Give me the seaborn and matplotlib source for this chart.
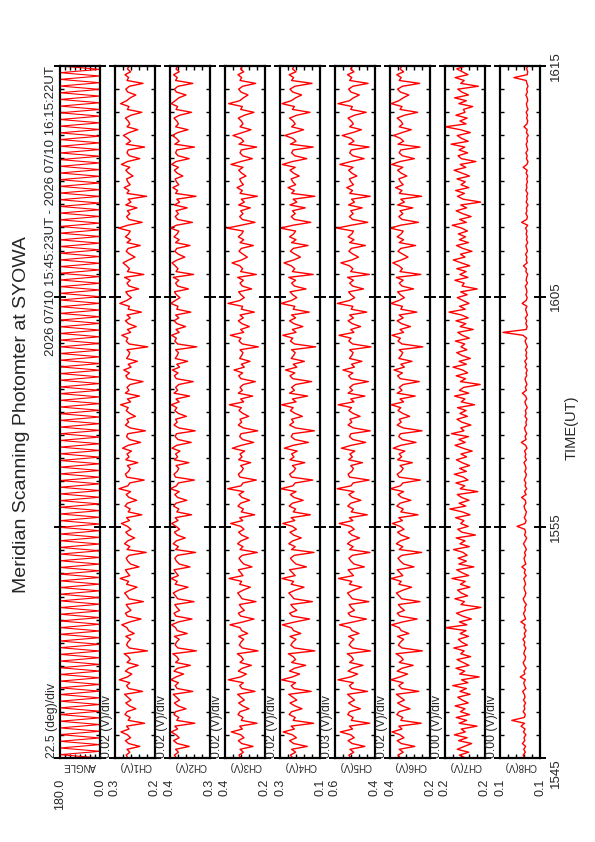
import numpy as np
import matplotlib
matplotlib.use("Agg")
import matplotlib.pyplot as plt
from matplotlib.ticker import FixedLocator
import seaborn as sns

# ---- text ----
TITLE = "Meridian Scanning Photomter at SYOWA"
PERIOD = "2026 07/10 15:45:23UT - 2026 07/10 16:15:22UT"
TIME_TICKS = [0, 10, 20, 30]  # minutes after 15:45
TIME_LABELS = ["1545", "1555", "1605", "1615"]
TIME_SPAN = 30

PANEL_NAMES = ["ANGLE", "CH1(V)", "CH2(V)", "CH3(V)", "CH4(V)",
               "CH5(V)", "CH6(V)", "CH7(V)", "CH8(V)"]
SCALE_TEXT = ["22.5 (deg)/div", "0.02 (V)/div", "0.02 (V)/div", "0.02 (V)/div",
              "0.02 (V)/div", "0.03 (V)/div", "0.02 (V)/div", "0.00 (V)/div",
              "0.00 (V)/div"]
VALUE_LIMITS = [(0.0, 180.0), (0.20, 0.30), (0.30, 0.40), (0.24, 0.36), (0.15, 0.25),
                (0.45, 0.60), (0.26, 0.36), (0.200, 0.215), (0.100, 0.115)]
VALUE_LABELS = [("180.0", "0.0"), ("0.3", "0.2"), ("0.4", "0.3"), ("0.4", "0.2"),
                ("0.3", "0.1"), ("0.6", "0.4"), ("0.4", "0.2"), ("0.2", "0.2"),
                ("0.1", "0.1")]
DIVISIONS = [8, 5, 5, 5, 5, 5, 5, 5, 5]

# ---- data ----
ANGLE = [
    0, 180, 0, 180, 0, 180, 0, 180, 0, 180, 0, 180, 0, 180, 0, 180,
    0, 180, 0, 180, 0, 180, 0, 180, 0, 180, 0, 180, 0, 180, 0, 180,
    0, 180, 0, 180, 0, 180, 0, 180, 0, 180, 0, 180, 0, 180, 0, 180,
    0, 180, 0, 180, 0, 180, 0, 180, 0, 180, 0, 180, 0, 180, 0, 180,
    0, 180, 0, 180, 0, 180, 0, 180, 0, 180, 0, 180, 0, 180, 0, 180,
    0, 180, 0, 180, 0, 180, 0, 180, 0, 180, 0, 180, 0, 180, 0, 180,
    0, 180, 0, 180, 0, 180, 0, 180, 0, 180, 0, 180, 0, 180, 0, 180,
    0, 180, 0, 180, 0, 180, 0, 180, 0, 180, 0, 180, 0, 180, 0, 180,
    0, 180, 0, 180, 0, 180, 0, 180, 0, 180, 0, 180, 0, 180, 0, 180,
    0, 180, 0, 180, 0, 180, 0, 180, 0, 180, 0, 180, 0, 180, 0, 180,
    0, 180, 0, 180, 0, 180, 0, 180, 0, 180, 0, 180, 0, 180, 0, 180,
    0, 180, 0, 180, 0, 180, 0, 180, 0, 180, 0, 180, 0, 180, 0, 180,
    0, 180, 0, 180, 0, 180, 0, 180, 0, 180, 0, 180, 0, 180, 0, 180,
]

# photometer channels, millivolts, 15:45 -> 16:15
CH1_MV = [
    268, 272, 263, 270, 238, 266, 274, 261, 269, 285, 265, 271, 226, 267, 262, 275, 270, 248, 264, 273,
    260, 268, 276, 231, 266, 271, 263, 289, 269, 258, 274, 265, 242, 270, 262, 267, 277, 219, 264, 271,
    268, 261, 273, 252, 266, 270, 283, 263, 235, 269, 274, 260, 267, 272, 229, 265, 270, 276, 262, 245,
    271, 266, 287, 263, 269, 274, 240, 261, 268, 272, 265, 222, 270, 263, 276, 268, 251, 266, 273, 260,
    269, 284, 264, 271, 233, 267, 262, 275, 269, 246, 265, 272, 261, 290, 268, 263, 227, 270, 274, 266,
    262, 269, 243, 273, 265, 270, 259, 281, 267, 236, 264, 271, 268, 224, 262, 274, 266, 270, 249, 263,
    272, 267, 286, 261, 269, 239, 274, 265, 270, 262, 230, 268, 273, 264, 278, 260, 267, 244, 271, 266,
    263, 270, 218, 265, 272, 268, 283, 261, 269, 247, 266, 274, 262, 270, 234, 267, 264, 288, 271, 259,
    268, 273, 241, 265, 270, 262, 276, 228, 269, 264, 271, 280, 266, 250, 263, 272, 267, 237, 270, 261,
    274, 266, 262, 291, 268, 232, 265, 271, 263, 269, 245, 273, 260, 267, 221, 270, 265, 277, 262, 268,
    271, 255, 266, 273, 263, 284, 269, 238, 264, 270, 267, 226, 272, 261, 268, 279, 265, 243, 270, 263,
    267, 274, 260, 233, 269, 265, 286, 271, 262, 248, 268, 273, 264, 230, 270, 266, 275, 261, 269, 264,
]
CH2_MV = [
    384, 389, 379, 386, 352, 382, 391, 377, 385, 397, 381, 388, 338, 383, 378, 390, 386, 360, 380, 389,
    376, 384, 392, 343, 382, 387, 379, 398, 385, 366, 390, 381, 349, 386, 378, 383, 393, 334, 380, 387,
    384, 377, 389, 357, 382, 386, 396, 379, 345, 385, 390, 376, 383, 388, 340, 381, 386, 392, 378, 355,
    387, 382, 397, 379, 385, 390, 350, 377, 384, 388, 381, 336, 386, 379, 392, 384, 362, 382, 389, 376,
    385, 396, 380, 387, 346, 383, 378, 391, 385, 358, 381, 388, 377, 399, 384, 379, 339, 386, 390, 382,
    378, 385, 353, 389, 381, 386, 375, 395, 383, 347, 380, 387, 384, 337, 378, 390, 382, 386, 359, 379,
    388, 383, 397, 377, 385, 351, 390, 381, 386, 378, 342, 384, 389, 380, 394, 376, 383, 356, 387, 382,
    379, 386, 333, 381, 388, 384, 396, 377, 385, 361, 382, 390, 378, 386, 348, 383, 380, 398, 387, 375,
    384, 389, 354, 381, 386, 378, 392, 341, 385, 380, 387, 395, 382, 363, 379, 388, 383, 350, 386, 377,
    390, 382, 378, 399, 384, 344, 381, 387, 379, 385, 357, 389, 376, 383, 335, 386, 381, 393, 378, 384,
    387, 368, 382, 389, 379, 396, 385, 352, 380, 386, 383, 339, 388, 377, 384, 394, 381, 355, 386, 379,
    383, 390, 376, 346, 385, 381, 397, 387, 378, 360, 384, 389, 380, 343, 386, 382, 391, 377, 385, 380,
]
CH3_MV = [
    312, 318, 305, 315, 276, 310, 320, 303, 313, 341, 308, 316, 264, 311, 306, 321, 315, 288, 307, 319,
    302, 312, 322, 270, 309, 316, 305, 350, 313, 296, 320, 308, 281, 315, 305, 311, 323, 261, 308, 317,
    312, 304, 319, 292, 310, 315, 345, 306, 273, 313, 320, 302, 311, 317, 267, 309, 315, 322, 305, 284,
    316, 310, 348, 306, 313, 320, 279, 304, 312, 318, 308, 263, 315, 306, 322, 312, 290, 310, 319, 303,
    313, 343, 307, 316, 271, 311, 305, 321, 313, 286, 309, 318, 304, 352, 312, 306, 266, 315, 320, 310,
    305, 313, 283, 319, 309, 315, 301, 338, 311, 274, 307, 316, 312, 262, 305, 320, 310, 315, 289, 306,
    318, 311, 347, 304, 313, 277, 320, 308, 315, 305, 269, 312, 319, 307, 333, 302, 311, 285, 316, 310,
    306, 315, 260, 308, 318, 312, 344, 304, 313, 287, 309, 320, 305, 315, 272, 311, 307, 351, 316, 302,
    312, 319, 280, 308, 315, 305, 322, 266, 313, 307, 316, 339, 310, 293, 306, 318, 311, 275, 315, 304,
    320, 310, 305, 354, 312, 270, 308, 316, 306, 313, 284, 319, 302, 311, 263, 315, 308, 324, 305, 312,
    316, 297, 310, 319, 306, 342, 313, 278, 307, 315, 311, 265, 318, 304, 312, 336, 308, 282, 315, 306,
    311, 320, 302, 273, 313, 308, 349, 316, 305, 291, 312, 319, 307, 268, 315, 310, 321, 304, 313, 308,
]
CH4_MV = [
    218, 224, 211, 221, 182, 216, 226, 209, 219, 242, 214, 222, 166, 217, 212, 227, 221, 195, 213, 225,
    208, 218, 228, 172, 215, 222, 211, 246, 219, 201, 226, 214, 186, 221, 211, 217, 229, 163, 214, 223,
    218, 210, 225, 198, 216, 221, 244, 212, 176, 219, 226, 208, 217, 223, 169, 215, 221, 228, 211, 190,
    222, 216, 245, 212, 219, 226, 184, 210, 218, 224, 214, 165, 221, 212, 228, 218, 197, 216, 225, 209,
    219, 243, 213, 222, 174, 217, 211, 227, 219, 192, 215, 224, 210, 248, 218, 212, 168, 221, 226, 216,
    211, 219, 188, 225, 215, 221, 207, 239, 217, 179, 213, 222, 218, 164, 211, 226, 216, 221, 194, 212,
    224, 217, 246, 210, 219, 181, 226, 214, 221, 211, 171, 218, 225, 213, 236, 208, 217, 189, 222, 216,
    212, 221, 161, 214, 224, 218, 243, 210, 219, 193, 215, 226, 211, 221, 177, 217, 213, 247, 222, 208,
    218, 225, 185, 214, 221, 211, 228, 167, 219, 213, 222, 240, 216, 199, 212, 224, 217, 180, 221, 210,
    226, 216, 211, 249, 218, 173, 214, 222, 212, 219, 187, 225, 208, 217, 163, 221, 214, 230, 211, 218,
    222, 202, 216, 225, 212, 244, 219, 183, 213, 221, 217, 167, 224, 210, 218, 238, 214, 191, 221, 212,
    217, 226, 208, 175, 219, 214, 245, 222, 211, 196, 218, 225, 213, 170, 221, 216, 227, 210, 219, 214,
]
CH5_MV = [
    540, 548, 530, 544, 488, 536, 551, 528, 541, 580, 534, 546, 470, 539, 532, 552, 545, 505, 533, 549,
    527, 540, 553, 478, 537, 546, 531, 589, 541, 515, 551, 534, 495, 545, 531, 538, 554, 467, 534, 547,
    540, 529, 549, 510, 536, 544, 583, 531, 482, 541, 551, 527, 539, 547, 473, 535, 544, 553, 530, 500,
    546, 537, 587, 531, 541, 551, 490, 529, 540, 548, 534, 469, 545, 532, 553, 540, 508, 537, 549, 528,
    541, 584, 533, 546, 479, 539, 531, 552, 541, 503, 535, 548, 529, 592, 540, 532, 472, 545, 551, 537,
    531, 541, 497, 549, 535, 544, 526, 576, 539, 485, 533, 546, 540, 468, 531, 551, 537, 544, 506, 532,
    548, 538, 588, 529, 541, 488, 551, 534, 545, 531, 475, 540, 549, 533, 570, 527, 538, 499, 546, 537,
    532, 545, 465, 534, 548, 540, 585, 529, 541, 504, 535, 551, 531, 545, 481, 539, 533, 591, 546, 526,
    540, 549, 493, 534, 545, 531, 553, 471, 541, 533, 546, 578, 537, 512, 532, 548, 539, 486, 545, 529,
    551, 537, 531, 593, 540, 477, 534, 546, 532, 541, 498, 549, 527, 538, 468, 545, 534, 556, 531, 540,
    546, 518, 537, 549, 532, 582, 541, 491, 533, 545, 539, 472, 548, 529, 540, 573, 534, 501, 545, 531,
    539, 551, 527, 483, 541, 535, 589, 546, 531, 509, 540, 549, 533, 476, 545, 537, 553, 529, 541, 535,
]
CH6_MV = [
    334, 340, 327, 337, 298, 332, 342, 325, 335, 355, 330, 338, 282, 333, 328, 343, 337, 310, 329, 341,
    324, 334, 344, 288, 331, 338, 327, 358, 335, 316, 342, 330, 302, 337, 327, 333, 345, 279, 330, 339,
    334, 326, 341, 313, 332, 337, 356, 328, 292, 335, 342, 324, 333, 339, 285, 331, 337, 344, 327, 306,
    338, 332, 357, 328, 335, 342, 300, 326, 334, 340, 330, 281, 337, 328, 344, 334, 312, 332, 341, 325,
    335, 354, 329, 338, 290, 333, 327, 343, 335, 308, 331, 340, 326, 359, 334, 328, 284, 337, 342, 332,
    327, 335, 304, 341, 331, 337, 323, 352, 333, 295, 329, 338, 334, 280, 327, 342, 332, 337, 311, 328,
    340, 333, 357, 326, 335, 297, 342, 330, 337, 327, 287, 334, 341, 329, 350, 324, 333, 305, 338, 332,
    328, 337, 278, 330, 340, 334, 355, 326, 335, 309, 331, 342, 327, 337, 293, 333, 329, 358, 338, 324,
    334, 341, 301, 330, 337, 327, 344, 283, 335, 329, 338, 353, 332, 315, 328, 340, 333, 296, 337, 326,
    342, 332, 327, 359, 334, 289, 330, 338, 328, 335, 303, 341, 324, 333, 281, 337, 330, 346, 327, 334,
    338, 318, 332, 341, 328, 356, 335, 299, 329, 337, 333, 285, 340, 326, 334, 351, 330, 307, 337, 328,
    333, 342, 324, 291, 335, 330, 357, 338, 327, 313, 334, 341, 329, 286, 337, 332, 343, 326, 335, 330,
]
CH7_MV = [
    207.2, 209.6, 206.1, 210.4, 207.8, 205.0, 209.9, 206.7, 211.5, 207.4, 208.9, 203.0, 209.7, 206.9, 210.8, 205.8, 209.2, 207.5, 211.2, 206.3,
    208.5, 210.2, 205.6, 209.4, 207.0, 212.1, 206.4, 208.8, 202.2, 209.5, 207.6, 210.9, 206.0, 208.3, 210.5, 205.4, 209.1, 207.8, 211.7, 206.6,
    208.7, 210.0, 206.2, 209.3, 207.1, 214.8, 206.8, 209.6, 205.1, 208.4, 210.7, 207.3, 201.5, 209.0, 207.7, 211.3, 206.5, 208.9, 210.3, 205.7,
    209.2, 207.4, 212.4, 206.1, 208.6, 210.6, 204.2, 209.8, 207.0, 210.1, 206.7, 208.2, 211.8, 205.9, 209.4, 207.5, 210.8, 203.6, 208.7, 210.2,
    206.3, 209.1, 207.9, 211.0, 205.6, 208.5, 213.2, 207.2, 209.7, 206.0, 208.8, 210.4, 202.7, 209.3, 207.6, 210.9, 206.4, 208.1, 211.5, 207.0,
    209.5, 205.8, 208.6, 210.7, 206.9, 209.0, 204.8, 208.3, 211.2, 207.4, 209.8, 206.2, 212.6, 207.9, 209.1, 205.3, 208.7, 210.5, 206.6, 209.4,
    207.1, 210.3, 203.9, 208.9, 207.5, 211.4, 206.1, 209.6, 208.0, 201.8, 209.2, 207.3, 210.8, 206.5, 208.4, 212.0, 207.0, 209.7, 205.5, 208.6,
    210.6, 206.8, 209.0, 207.6, 211.1, 205.9, 208.5, 210.2, 204.4, 209.3, 207.2, 210.9, 206.3, 208.8, 213.5, 207.4, 209.5, 206.0, 208.2, 210.4,
    206.7, 209.1, 202.9, 208.6, 207.8, 211.3, 206.4, 209.4, 207.1, 210.6, 205.7, 208.9, 211.9, 207.5, 209.2, 204.9, 208.3, 210.7, 206.2, 209.6,
    207.3, 210.0, 206.6, 208.7, 212.3, 207.0, 209.5, 205.2, 208.4, 210.8, 206.9, 209.1, 201.6, 208.2, 210.3, 207.7, 211.0, 206.1, 209.0, 207.4,
    210.5, 205.8, 208.6, 211.6, 207.2, 209.3, 203.4, 208.9, 210.1, 206.5, 209.7, 207.6, 212.7, 206.3, 208.8, 210.4, 205.5, 209.2, 214.9, 207.1,
    209.4, 206.7, 210.9, 207.5, 208.1, 204.6, 209.8, 207.0, 211.4, 206.2, 208.7, 210.2, 202.5, 209.1, 207.8, 211.2, 206.4, 208.5, 210.6, 207.3,
]
CH8_MV = [
    105.8, 106.3, 105.5, 106.1, 105.4, 106.6, 105.7, 106.0, 105.3, 106.2, 105.6, 107.1, 105.8, 110.6, 105.9, 105.5, 106.3, 105.7, 106.0, 105.4,
    106.2, 105.6, 105.9, 106.5, 105.3, 105.8, 106.1, 105.5, 107.4, 105.7, 106.0, 105.2, 105.9, 106.3, 105.6, 105.4, 106.1, 105.8, 105.3, 106.0,
    105.7, 106.4, 105.5, 105.9, 105.2, 106.0, 105.6, 107.2, 105.4, 105.8, 106.2, 105.5, 105.7, 105.1, 105.9, 106.3, 105.6, 105.3, 105.8, 106.0,
    105.4, 105.7, 106.1, 105.2, 105.9, 105.5, 106.8, 105.3, 105.7, 106.0, 105.4, 105.8, 105.1, 105.6, 106.2, 105.5, 105.0, 105.8, 105.4, 105.7,
    108.6, 105.6, 105.2, 105.9, 105.4, 105.1, 105.7, 106.0, 105.3, 105.5, 106.9, 105.2, 105.8, 105.0, 105.6, 105.3, 105.9, 105.4, 105.1, 105.7,
    105.2, 105.5, 106.0, 105.1, 105.6, 105.3, 105.8, 104.9, 105.4, 107.0, 105.2, 105.6, 105.0, 105.5, 105.8, 105.1, 105.3, 104.9, 105.6, 105.2,
    105.5, 104.8, 105.3, 105.7, 105.0, 105.4, 106.6, 105.1, 105.5, 104.9, 105.3, 105.6, 105.0, 105.2, 104.8, 105.5, 105.1, 105.7, 104.9, 105.3,
    105.0, 105.4, 104.7, 105.2, 105.6, 105.0, 106.4, 113.9, 105.2, 104.8, 105.3, 105.0, 105.5, 104.7, 105.1, 105.4, 104.9, 106.7, 105.2, 104.8,
    105.3, 104.9, 105.1, 105.5, 104.7, 105.2, 105.0, 104.6, 105.3, 105.1, 106.2, 104.8, 105.2, 104.9, 105.4, 104.7, 105.0, 105.3, 104.6, 105.1,
    104.8, 105.2, 104.9, 105.4, 104.6, 106.9, 105.0, 104.7, 105.3, 104.9, 105.1, 104.5, 105.2, 104.8, 105.0, 104.6, 105.3, 104.9, 105.1, 104.7,
    105.0, 104.6, 105.2, 104.8, 106.3, 104.9, 104.5, 105.1, 104.8, 105.3, 104.6, 104.9, 105.2, 104.7, 105.0, 104.4, 105.1, 104.8, 106.0, 104.9,
    104.6, 105.0, 104.7, 105.2, 104.5, 104.9, 105.1, 104.6, 104.8, 105.3, 104.7, 105.0, 104.5, 104.9, 105.2, 109.8, 104.8, 104.6, 105.0, 104.7,
]

SERIES = [np.array(ANGLE, dtype=float)] + [
    np.array(ch) / 1000.0
    for ch in (CH1_MV, CH2_MV, CH3_MV, CH4_MV, CH5_MV, CH6_MV, CH7_MV, CH8_MV)
]

# ---- layout (pixels of a 595x842 page) ----
W, H = 595, 842
PANEL_LEFT = [60, 115, 170, 225, 280, 335, 390, 445, 500]
PANEL_W = 40
PANEL_TOP, PANEL_BOTTOM = 66, 758

sns.set_style("white")
plt.rcParams["font.family"] = ["Liberation Sans", "DejaVu Sans"]

fig = plt.figure(figsize=(W / 100, H / 100), dpi=100)


def fx(px):
    return px / W


def fy(py):
    return 1 - py / H


for i, (name, values) in enumerate(zip(PANEL_NAMES, SERIES)):
    ax = fig.add_axes([fx(PANEL_LEFT[i]), fy(PANEL_BOTTOM), fx(PANEL_W),
                       (PANEL_BOTTOM - PANEL_TOP) / H])
    t = np.linspace(0, TIME_SPAN, len(values))
    sns.lineplot(x=values, y=t, ax=ax, orient="y", sort=False, estimator=None,
                 color="#ff0000", linewidth=0.8 if i == 0 else 1.0, legend=False)

    lo, hi = VALUE_LIMITS[i]
    ax.set_xlim(hi, lo)  # high values on the left
    ax.set_ylim(0, TIME_SPAN)
    ax.set_xlabel("")
    ax.set_ylabel("")

    # value axis: end labels + division ticks
    ax.set_xticks([hi, lo], labels=list(VALUE_LABELS[i]))
    ax.xaxis.set_minor_locator(FixedLocator(np.linspace(lo, hi, DIVISIONS[i] + 1)))
    ax.tick_params(axis="x", which="major", length=0, pad=15, labelsize=9,
                   labelrotation=90)
    ax.tick_params(axis="x", which="minor", direction="in", length=3, width=1,
                   top=True, bottom=True, color="black")

    # time axis
    ax.set_yticks(TIME_TICKS)
    ax.yaxis.set_minor_locator(FixedLocator(range(0, TIME_SPAN + 1)))
    ax.tick_params(axis="y", which="major", direction="inout", length=9, width=1.4,
                   left=True, right=True, labelleft=False,
                   labelright=(i == len(SERIES) - 1), labelsize=9.5,
                   labelrotation=90, pad=3, color="black")
    ax.tick_params(axis="y", which="minor", direction="in", length=3, width=1,
                   left=True, right=True, color="black")
    if i == len(SERIES) - 1:
        ax.set_yticklabels(TIME_LABELS)
        for k, tick in enumerate(ax.yaxis.get_major_ticks()):
            tick.label2.set_va("top" if k == 0 else "center")

    for sp in ax.spines.values():
        sp.set_visible(True)
        sp.set_color("black")
        sp.set_linewidth(1.6)

    ax.text(0.5, -0.004, name, transform=ax.transAxes, rotation=180,
            ha="center", va="top", fontsize=7)
    fig.text(fx(PANEL_LEFT[i] - 8), fy(PANEL_BOTTOM), SCALE_TEXT[i], rotation=90,
             ha="center", va="bottom", fontsize=8.8)

fig.text(fx(51), fy(PANEL_TOP), PERIOD, rotation=90, ha="center", va="top",
         fontsize=9.5)
fig.text(fx(22), fy(415), TITLE, rotation=90, ha="center", va="center",
         fontsize=14)
fig.text(fx(572), fy(428), "TIME(UT)", rotation=90, ha="center", va="center",
         fontsize=10.5)

fig.savefig("out.png", dpi=100, facecolor="white")
